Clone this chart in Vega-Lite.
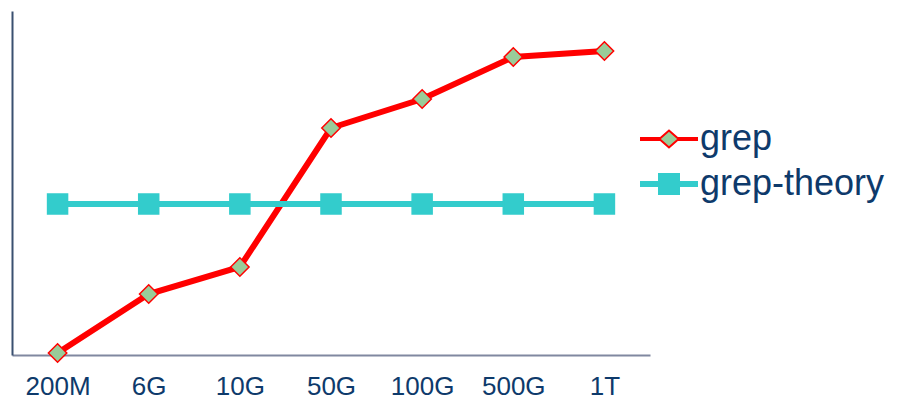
{
  "$schema": "https://vega.github.io/schema/vega-lite/v6.json",
  "width": 638,
  "height": 344,
  "autosize": {"type": "none"},
  "padding": {"left": 12, "top": 11, "right": 248, "bottom": 44},
  "background": "white",
  "config": {"view": {"stroke": null}},
  "data": {
    "values": [
      {"size": "200M", "series": "grep", "value": 2},
      {"size": "6G", "series": "grep", "value": 61},
      {"size": "10G", "series": "grep", "value": 88},
      {"size": "50G", "series": "grep", "value": 227},
      {"size": "100G", "series": "grep", "value": 256},
      {"size": "500G", "series": "grep", "value": 298},
      {"size": "1T", "series": "grep", "value": 304},
      {"size": "200M", "series": "grep-theory", "value": 151},
      {"size": "6G", "series": "grep-theory", "value": 151},
      {"size": "10G", "series": "grep-theory", "value": 151},
      {"size": "50G", "series": "grep-theory", "value": 151},
      {"size": "100G", "series": "grep-theory", "value": 151},
      {"size": "500G", "series": "grep-theory", "value": 151},
      {"size": "1T", "series": "grep-theory", "value": 151}
    ]
  },
  "encoding": {
    "x": {
      "field": "size", "type": "ordinal",
      "sort": ["200M", "6G", "10G", "50G", "100G", "500G", "1T"],
      "scale": {"type": "point", "padding": 0.5},
      "axis": {
        "title": null, "ticks": false, "grid": false,
        "domainColor": "#8088a0", "domainWidth": 2,
        "labelFont": "Liberation Sans", "labelFontSize": 26, "labelColor": "#0e3a6b",
        "labelPadding": 18, "labelAngle": 0
      }
    },
    "y": {
      "field": "value", "type": "quantitative",
      "scale": {"domain": [0, 344]},
      "axis": {
        "title": null, "ticks": false, "labels": false, "grid": false,
        "domainColor": "#3a5070", "domainWidth": 2
      }
    }
  },
  "resolve": {"scale": {"shape": "independent", "fill": "independent", "stroke": "independent", "size": "independent"}},
  "layer": [
    {
      "mark": {"type": "line", "strokeWidth": 6},
      "encoding": {
        "stroke": {
          "field": "series", "type": "nominal",
          "scale": {"domain": ["grep", "grep-theory"], "range": ["#ff0000", "#33cccc"]},
          "legend": null
        }
      }
    },
    {
      "mark": {"type": "point", "filled": true, "opacity": 1, "strokeWidth": 1.5},
      "encoding": {
        "shape": {
          "field": "series", "type": "nominal",
          "scale": {"domain": ["grep", "grep-theory"], "range": ["diamond", "square"]},
          "legend": null
        },
        "fill": {
          "field": "series", "type": "nominal",
          "scale": {"domain": ["grep", "grep-theory"], "range": ["#99cc99", "#33cccc"]},
          "legend": null
        },
        "stroke": {
          "field": "series", "type": "nominal",
          "scale": {"domain": ["grep", "grep-theory"], "range": ["#ff0000", "#33cccc"]},
          "legend": null
        },
        "size": {
          "field": "series", "type": "nominal",
          "scale": {"domain": ["grep", "grep-theory"], "range": [340, 400]},
          "legend": null
        }
      }
    },
    {
      "mark": {"type": "point", "filled": true, "opacity": 0, "strokeWidth": 2},
      "encoding": {
        "shape": {
          "field": "series", "type": "nominal",
          "scale": {"domain": ["grep", "grep-theory"], "range": ["M-2.8,-0.1H-0.85L0,-0.85L0.85,-0.1H2.8V0.1H0.85L0,0.85L-0.85,0.1H-2.8Z", "M-2.8,-0.2H-1V-1H1V-0.2H2.8V0.2H1V1H-1V0.2H-2.8Z"]},
          "legend": {
            "title": null, "orient": "none", "legendX": 639, "legendY": 110,
            "padding": 0, "rowPadding": 9, "labelOffset": 13, "labelLimit": 400,
            "labelFont": "Liberation Sans", "labelFontSize": 36, "labelColor": "#0e3a6b",
            "symbolSize": 400, "symbolOpacity": 1, "symbolStrokeWidth": 2
          }
        },
        "fill": {
          "field": "series", "type": "nominal",
          "scale": {"domain": ["grep", "grep-theory"], "range": ["#99cc99", "#33cccc"]},
          "legend": {
            "title": null, "orient": "none", "legendX": 639, "legendY": 110,
            "padding": 0, "rowPadding": 9, "labelOffset": 13, "labelLimit": 400,
            "labelFont": "Liberation Sans", "labelFontSize": 36, "labelColor": "#0e3a6b",
            "symbolSize": 400, "symbolOpacity": 1, "symbolStrokeWidth": 2
          }
        },
        "stroke": {
          "field": "series", "type": "nominal",
          "scale": {"domain": ["grep", "grep-theory"], "range": ["#ff0000", "#33cccc"]},
          "legend": {
            "title": null, "orient": "none", "legendX": 639, "legendY": 110,
            "padding": 0, "rowPadding": 9, "labelOffset": 13, "labelLimit": 400,
            "labelFont": "Liberation Sans", "labelFontSize": 36, "labelColor": "#0e3a6b",
            "symbolSize": 400, "symbolOpacity": 1, "symbolStrokeWidth": 2
          }
        },
        "size": {"value": 400}
      }
    }
  ]
}
